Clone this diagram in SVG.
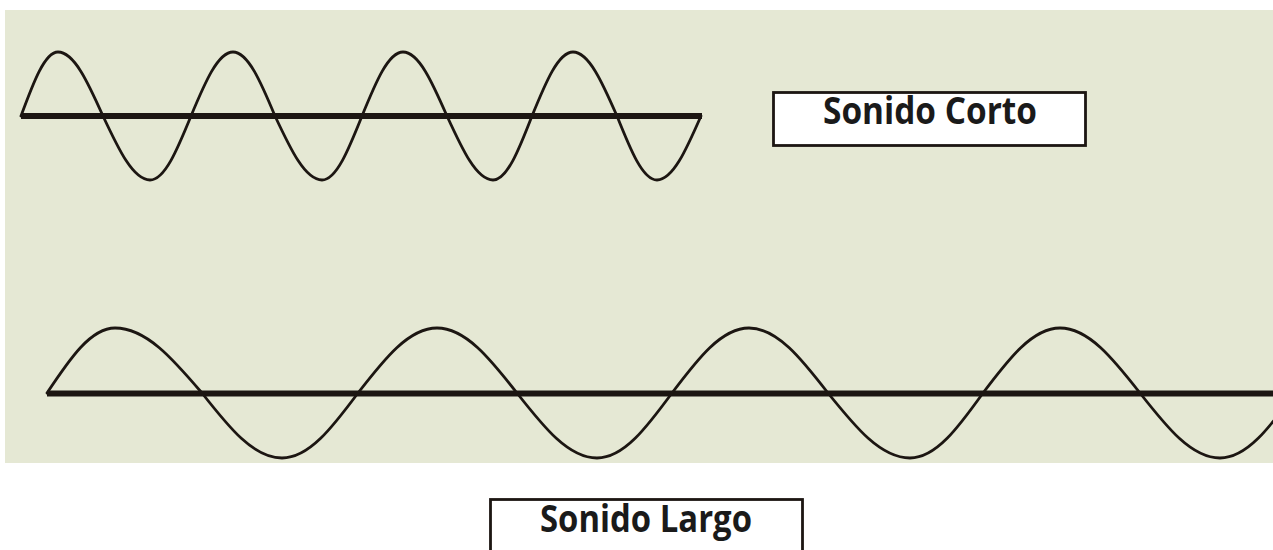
<svg xmlns="http://www.w3.org/2000/svg" width="1273" height="550" viewBox="0 0 1273 550">
<style>
.axis{stroke:#1c1612;stroke-width:6;fill:none}
.wave{stroke:#1c1612;stroke-width:2.8;fill:none;stroke-linejoin:round;stroke-linecap:round}
.box{fill:#ffffff;stroke:#1c1612;stroke-width:2.8}
.lbl{font-family:"Open Sans","Liberation Sans",sans-serif;font-weight:bold;font-size:37px;fill:#1a1a1a;text-anchor:middle}
</style>
<rect x="0" y="0" width="1273" height="550" fill="#ffffff"/>
<rect x="5" y="10" width="1268" height="453" fill="#e5e8d4"/>
<g id="connectors">
<g id="short-wave">
<line class="axis" x1="21" y1="116" x2="702" y2="116"/>
<path class="wave" d="M21,116 C33.4,82.4 44.8,52 58,52 C74.1,52 88,82.4 103,116 C118.7,149.6 133.2,180 150,180 C164.7,180 177.3,149.6 191,116 C205,82.4 218,52 233,52 C248,52 261,82.4 275,116 C290.7,149.6 305.2,180 322,180 C336.3,180 348.6,149.6 362,116 C375.7,82.4 388.3,52 403,52 C418.8,52 432.3,82.4 447,116 C462.4,149.6 476.5,180 493,180 C507,180 519,149.6 532,116 C545.7,82.4 558.3,52 573,52 C588.8,52 602.3,82.4 617,116 C630.4,149.6 642.7,180 657,180 C672.8,180 686.3,149.6 701,116"/>
</g>
<g id="long-wave">
<line class="axis" x1="47" y1="393.5" x2="1273" y2="393.5"/>
<path class="wave" d="M47,393 C69.7,358.9 90.6,328 115,328 C146.2,328 172.9,358.9 202,393 C228.7,427.1 253.4,458 282,458 C309.2,458 332.6,427.1 358,393 C384.4,358.9 408.7,328 437,328 C465.6,328 490.3,358.9 517,393 C543.7,427.1 568.4,458 597,458 C623.9,458 646.9,427.1 672,393 C697.7,358.9 721.4,328 749,328 C777.3,328 801.6,358.9 828,393 C855.4,427.1 880.6,458 910,458 C936.1,458 958.6,427.1 983,393 C1008.7,358.9 1032.4,328 1060,328 C1088.6,328 1113.3,358.9 1140,393 C1166.7,427.1 1191.4,458 1220,458 C1246.9,458 1269.9,427.1 1295,393"/>
</g>
</g>
<g id="label-corto">
<rect class="box" x="773.5" y="92.5" width="312" height="53"/>
<text class="lbl" x="930" y="124" textLength="214" lengthAdjust="spacingAndGlyphs">Sonido Corto</text>
</g>
<g id="label-largo">
<rect class="box" x="490.5" y="499.5" width="312" height="60"/>
<text class="lbl" x="646" y="532" textLength="212" lengthAdjust="spacingAndGlyphs">Sonido Largo</text>
</g>
</svg>
